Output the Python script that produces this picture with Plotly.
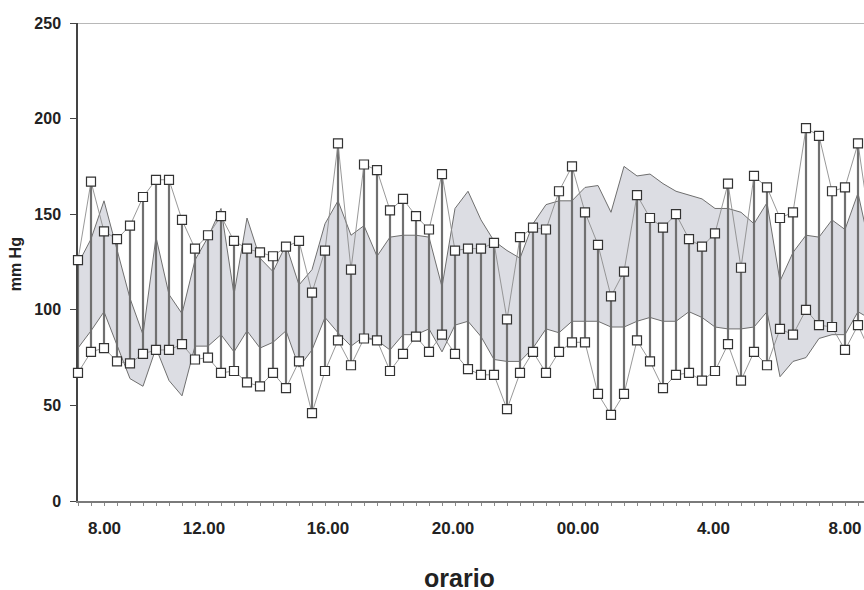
import plotly.graph_objects as go

# measurement index (one reading every slot)
idx = list(range(62))

systolic = [126, 167, 141, 137, 144, 159, 168, 168, 147, 132,
            139, 149, 136, 132, 130, 128, 133, 136, 109, 131,
            187, 121, 176, 173, 152, 158, 149, 142, 171, 131,
            132, 132, 135, 95, 138, 143, 142, 162, 175, 151,
            134, 107, 120, 160, 148, 143, 150, 137, 133, 140,
            166, 122, 170, 164, 148, 151, 195, 191, 162, 164,
            187, 140]

diastolic = [67, 78, 80, 73, 72, 77, 79, 79, 82, 74,
             75, 67, 68, 62, 60, 67, 59, 73, 46, 68,
             84, 71, 85, 84, 68, 77, 86, 78, 87, 77,
             69, 66, 66, 48, 67, 78, 67, 78, 83, 83,
             56, 45, 56, 84, 73, 59, 66, 67, 63, 68,
             82, 63, 78, 71, 90, 87, 100, 92, 91, 79,
             92, 77]

band_upper = [124, 137, 157, 131, 106, 87, 138, 108, 98, 126,
              138, 153, 108, 148, 127, 120, 134, 113, 121, 145,
              157, 139, 144, 128, 138, 139, 139, 138, 112, 153,
              162, 147, 136, 131, 127, 145, 155, 157, 157, 164,
              165, 151, 175, 170, 171, 166, 162, 160, 158, 153,
              153, 151, 145, 156, 115, 130, 139, 138, 147, 142,
              161, 130]

band_lower = [80, 89, 99, 81, 64, 60, 80, 63, 55, 81,
              81, 87, 78, 89, 80, 83, 89, 70, 79, 96,
              88, 81, 86, 84, 79, 87, 87, 90, 78, 92,
              94, 86, 74, 73, 73, 80, 90, 88, 94, 94,
              94, 91, 91, 94, 96, 94, 94, 99, 96, 91,
              90, 90, 91, 99, 65, 73, 75, 85, 87, 87,
              99, 95]

tick_labels = ["8.00", "12.00", "16.00", "20.00", "00.00", "4.00", "8.00"]
tick_pos = [2.04, 9.69, 19.23, 28.85, 38.46, 48.88, 59.0]

FONT = "Liberation Sans, Arial, sans-serif"

fig = go.Figure()

# shaded reference band
fig.add_trace(go.Scatter(x=idx, y=band_lower, mode="lines",
                         line=dict(color="#6f6f6f", width=1),
                         hoverinfo="skip", showlegend=False))
fig.add_trace(go.Scatter(x=idx, y=band_upper, mode="lines", fill="tonexty",
                         fillcolor="#dcdde3",
                         line=dict(color="#6f6f6f", width=1),
                         hoverinfo="skip", showlegend=False))

# vertical connectors systolic-diastolic
vx, vy = [], []
for k, s, d in zip(idx, systolic, diastolic):
    vx += [k, k, None]
    vy += [s, d, None]
fig.add_trace(go.Scatter(x=vx, y=vy, mode="lines",
                         line=dict(color="#707070", width=2.2),
                         hoverinfo="skip", showlegend=False, cliponaxis=False))

# series lines + markers
for series in (systolic, diastolic):
    fig.add_trace(go.Scatter(x=idx, y=series, mode="lines",
                             line=dict(color="#8c8c8c", width=0.9),
                             showlegend=False))
for series in (systolic, diastolic):
    fig.add_trace(go.Scatter(x=idx, y=series, mode="markers",
                             marker=dict(symbol="square", size=9, color="white",
                                         line=dict(color="#333333", width=1.2)),
                             showlegend=False, cliponaxis=False))

# top border line
fig.add_shape(type="line", xref="paper", yref="y", x0=0, x1=1, y0=250, y1=250,
              line=dict(color="#a0a0a0", width=1.5))

fig.update_layout(
    width=864, height=590,
    margin=dict(l=78, r=0, t=23, b=89),
    paper_bgcolor="white", plot_bgcolor="white",
    font=dict(family=FONT, color="#222222"),
    xaxis=dict(range=[0, 786 / 13], showgrid=False, zeroline=False,
               showline=True, linecolor="#7a7a7a", linewidth=2,
               tickmode="array", tickvals=tick_pos, ticktext=tick_labels,
               ticks="", ticklabelstandoff=11,
               tickfont=dict(size=17, family=FONT, weight="bold", color="#222222"),
               minor=dict(tickmode="linear", tick0=0, dtick=1, ticks="outside",
                          ticklen=3, tickcolor="#8a8a8a", tickwidth=1, showgrid=False),
               layer="below traces"),
    yaxis=dict(range=[0, 250], showgrid=False, zeroline=False,
               showline=True, linecolor="#444444", linewidth=1.5,
               tickvals=[0, 50, 100, 150, 200, 250],
               ticks="outside", ticklen=6, tickcolor="#444444", tickwidth=1,
               ticklabelstandoff=6,
               tickfont=dict(size=16, family=FONT, weight="bold", color="#222222"),
               layer="below traces"),
)

fig.add_annotation(text="orario", xref="paper", yref="paper",
                   x=(459.5 - 78) / 786, y=(500.7 - 577.5) / 478,
                   xanchor="center", yanchor="middle", showarrow=False,
                   font=dict(size=25, family=FONT, weight="bold", color="#222222"))
fig.add_annotation(text="mm Hg", xref="paper", yref="paper",
                   x=(15 - 78) / 786, y=(500.7 - 264) / 478, textangle=-90,
                   xanchor="center", yanchor="middle", showarrow=False,
                   font=dict(size=16, family=FONT, weight="bold", color="#222222"))

fig.write_html("out.html",
               config={"displayModeBar": False},
               post_script="document.body.style.margin='0';"
                           "document.body.style.overflow='hidden';")
